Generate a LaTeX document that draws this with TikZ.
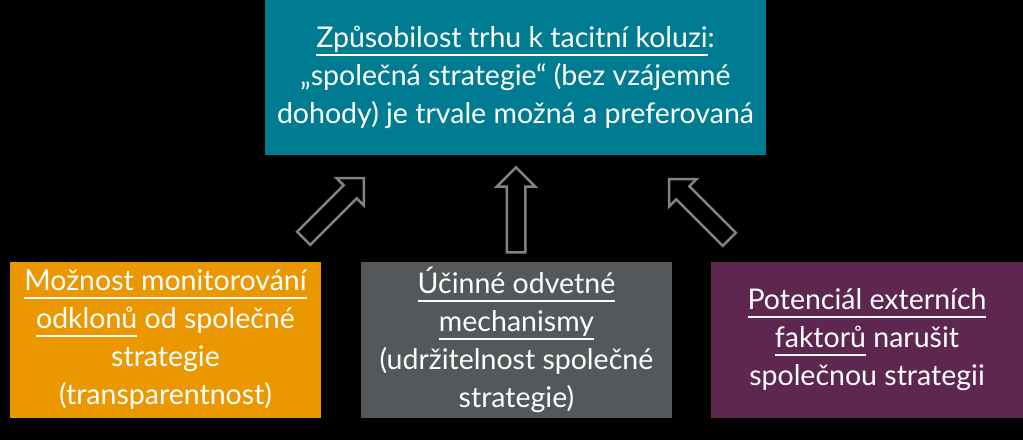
\documentclass[tikz,border=0pt]{standalone}
\usepackage{fontspec}
\setmainfont{Lato}
\usetikzlibrary{shapes.arrows}
\definecolor{vfteal}{RGB}{0,124,146}
\definecolor{vforange}{RGB}{235,151,0}
\definecolor{vfgrey}{RGB}{84,88,90}
\definecolor{vfpurple}{RGB}{94,39,80}
\definecolor{arrowgrey}{RGB}{130,130,130}
\newcommand{\ulin}[1]{\leavevmode\vtop{\hbox{#1\vphantom{p}}\kern1.5pt\hrule height 2pt}}
\tikzset{
  box/.style={fill=#1, text=white, align=center, inner sep=0pt, minimum height=156pt,
    font=\fontsize{28.5}{38}\selectfont},
  blockarrow/.style={single arrow, draw=arrowgrey, line width=2.5pt, fill=black,
    minimum height=85pt, minimum width=0pt, inner sep=8pt, single arrow head extend=10pt}
}
\begin{document}
\begin{tikzpicture}[x=1pt,y=-1pt]
      \fill[black] (0,0) rectangle (1023,440);
      \node[box=vfteal, minimum width=501pt, minimum height=155pt] (goal) at (515.5,77.5)
        {\ulin{Způsobilost trhu k tacitní koluzi}:\\„společná strategie“ (bez vzájemné\\dohody) je trvale možná a preferovaná};
      \node[box=vforange, minimum width=311pt] (monitor) at (165.5,340)
        {\ulin{Možnost monitorování}\\\ulin{odklonů} od společné\\strategie\\(transparentnost)};
      \node[box=vfgrey, minimum width=311pt] (retal) at (516.5,340)
        {\ulin{Účinné odvetné}\\\ulin{mechanismy}\\(udržitelnost společné\\strategie)};
      \node[box=vfpurple, minimum width=312pt] (extern) at (867,340)
        {\ulin{Potenciál externích}\\\ulin{faktorů} narušit\\společnou strategii};
      \node[blockarrow, rotate=45] (arrmon) at (330.5,211.5) {};
      \node[blockarrow, rotate=90] (arrret) at (516,214.5) {};
      \node[blockarrow, rotate=135] (arrext) at (702.5,212.5) {};
\end{tikzpicture}
\end{document}
